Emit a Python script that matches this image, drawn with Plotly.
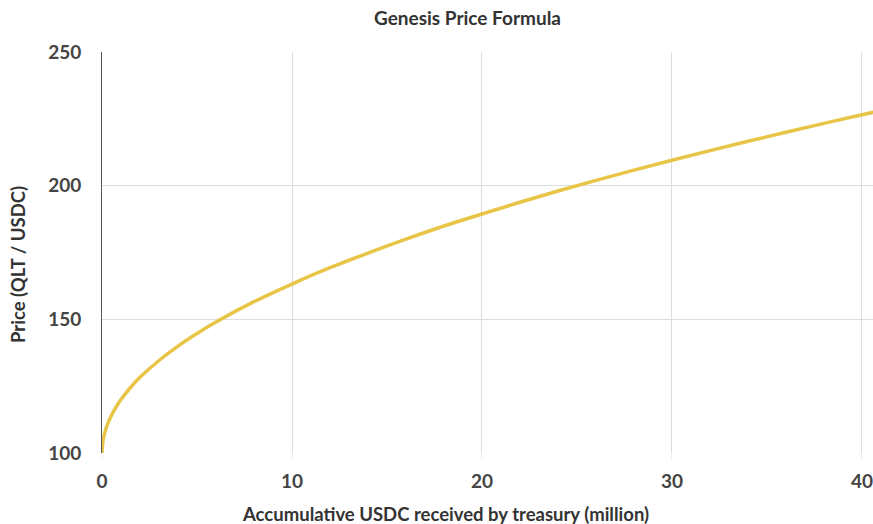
import plotly.graph_objects as go

usdc_million = [0, 0.05, 0.1, 0.25, 0.5, 0.75, 1, 1.5, 2, 3, 4, 5, 6, 8, 10, 12, 14, 16, 18,
                20, 22, 24, 26, 28, 30, 32, 34, 36, 38, 40, 41]
price = [100, 104.5, 106.3, 110, 114.1, 117.3, 120, 124.5, 128.3, 134.6, 140, 144.7, 149,
         156.6, 163.2, 169.3, 174.8, 180, 184.9, 189.4, 193.8, 198, 202, 205.8, 209.5,
         213.1, 216.6, 220, 223.3, 226.5, 228.1]
x_ticks = [0, 10, 20, 30, 40]
y_ticks = [100, 150, 200, 250]

fam = "Lato, 'Open Sans', sans-serif"
W, H = 873, 524
L, R, T, B = 102, 0, 52, 71
pw, ph = W - L - R, H - T - B

fig = go.Figure()
fig.add_trace(go.Scatter(
    x=usdc_million, y=price, mode="lines",
    line=dict(color="#E8C547", width=3.5, shape="spline"),
    hoverinfo="skip", showlegend=False,
))

title_font = dict(size=18.5, color="#333333", weight="bold", family=fam)

fig.update_layout(
    width=W, height=H,
    margin=dict(l=L, r=R, t=T, b=B, autoexpand=False),
    paper_bgcolor="white", plot_bgcolor="white",
    font=dict(family=fam, color="#444444", weight="bold"),
    title=dict(text="Genesis Price Formula", x=(376 + 559) / 2 / W, xanchor="center", xref="container",
               y=1 - 18 / H, yanchor="middle", yref="container", automargin=False,
               font=dict(size=19, color="#333333", weight="bold", family=fam)),
    xaxis=dict(
        range=[0, 40.58], tickvals=x_ticks, ticktext=[str(v) for v in x_ticks],
        showgrid=True, gridcolor="#DDDDDD", gridwidth=1,
        zeroline=False, showline=False, automargin=False,
        ticks="outside", ticklen=5, tickcolor="#EEEEEE",
        ticklabelstandoff=6, ticklabeloverflow="allow",
        tickfont=dict(size=19, color="#444444", weight="bold", family=fam),
    ),
    yaxis=dict(
        range=[100, 250], tickvals=y_ticks, ticktext=[str(v) for v in y_ticks],
        showgrid=True, gridcolor="#DDDDDD", gridwidth=1,
        zeroline=False, showline=True, linecolor="#555555", linewidth=1,
        ticks="", ticklen=0, automargin=False,
        ticklabelstandoff=16, ticklabeloverflow="allow",
        tickfont=dict(size=19, color="#444444", weight="bold", family=fam),
    ),
    annotations=[
        dict(text="Accumulative USDC received by treasury (million)",
             xref="paper", yref="paper", x=(445 - L) / pw, y=(H - B - 514) / ph,
             xanchor="center", yanchor="middle", showarrow=False, font=title_font),
        dict(text="Price (QLT / USDC)", textangle=-90,
             xref="paper", yref="paper", x=(18 - L) / pw, y=(H - B - 265) / ph,
             xanchor="center", yanchor="middle", showarrow=False, font=title_font),
    ],
)

fig.write_html("out.html", config={"displayModeBar": False},
               post_script="document.body.style.margin='0';document.body.style.padding='0';")
